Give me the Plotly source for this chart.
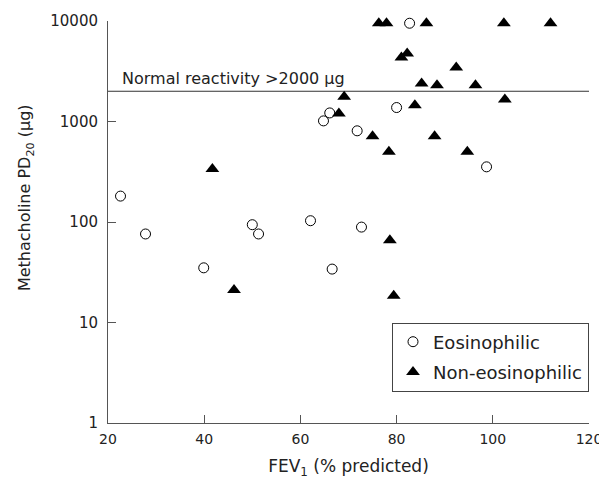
import numpy as np
import plotly.graph_objects as go

# Eosinophilic group (open circles)
eos_fev1 = [82.7, 80.0, 66.1, 64.8, 71.8, 98.7, 22.6, 27.8, 50.0, 51.3, 62.1, 72.7, 39.9, 66.6]
eos_pd20 = [9500, 1377, 1217, 1014, 808, 354, 181, 76, 94, 76, 103, 89, 35, 34]

# Non-eosinophilic group (filled triangles)
non_fev1 = [76.3, 77.9, 86.2, 102.3, 112.0, 81.0, 82.2, 92.4, 85.2, 88.4, 96.4, 69.1,
            102.5, 83.8, 68.0, 75.0, 87.9, 78.4, 94.7, 41.7, 78.6, 46.2, 79.4]
non_pd20 = [9500, 9500, 9500, 9500, 9500, 4330, 4740, 3440, 2390, 2300, 2300, 1760,
            1660, 1453, 1202, 715, 715, 499, 499, 336, 66, 21, 18.5]

threshold = 2000
x_range = [20, 120]
x_ticks = [20, 40, 60, 80, 100, 120]
y_ticks = [1, 10, 100, 1000, 10000]
y_ticktext = ["1", "10", "100", "1000", "10000"]

FONT = "DejaVu Sans"
AXC = "#555555"
TXT = "#222222"

fig = go.Figure()

fig.add_trace(go.Scatter(
    x=x_range, y=[threshold, threshold], mode="lines",
    line=dict(color="#333333", width=1), showlegend=False, hoverinfo="skip",
    cliponaxis=False))

fig.add_trace(go.Scatter(
    x=eos_fev1, y=eos_pd20, mode="markers", name="Eosinophilic",
    legendgroup="a",
    marker=dict(symbol="circle-open", size=10, color="black", line=dict(width=1)),
    cliponaxis=False))

fig.add_trace(go.Scatter(
    x=non_fev1, y=non_pd20, mode="markers", name="Non-eosinophilic",
    legendgroup="b",
    marker=dict(symbol="triangle-up", size=12, color="black"),
    cliponaxis=False))

fig.add_annotation(
    x=22.5, y=np.log10(threshold), xref="x", yref="y",
    text="Normal reactivity >2000 µg", showarrow=False,
    xanchor="left", yanchor="bottom", yshift=1,
    font=dict(family=FONT, size=16, color=TXT))

fig.add_annotation(
    x=-0.17, y=0.56, xref="paper", yref="paper",
    text="Methacholine PD<sub>20</sub> (µg)", showarrow=False,
    textangle=-90, xanchor="center", yanchor="middle",
    font=dict(family=FONT, size=16, color=TXT))

fig.update_layout(
    width=599, height=477,
    margin=dict(l=100, r=18, t=13, b=62),
    paper_bgcolor="white", plot_bgcolor="white",
    font=dict(family=FONT, size=15, color=TXT),
    legend=dict(
        x=1, xanchor="right", y=0.25, yanchor="top",
        bordercolor="#444444", borderwidth=1, bgcolor="white",
        font=dict(family=FONT, size=18, color=TXT),
        traceorder="grouped", tracegroupgap=4),
)

fig.update_xaxes(
    range=x_range, tickvals=x_ticks, automargin=False,
    showline=True, linecolor=AXC, linewidth=1,
    ticks="inside", ticklen=8, tickcolor=AXC,
    showgrid=False, zeroline=False,
    tickfont=dict(family=FONT, size=14, color=TXT),
    ticklabelstandoff=3,
    title=dict(text="FEV<sub>1</sub> (% predicted)",
               font=dict(family=FONT, size=17, color=TXT), standoff=14))

fig.update_yaxes(
    type="log", range=[0, 4], tickvals=y_ticks, ticktext=y_ticktext,
    automargin=False,
    showline=True, linecolor=AXC, linewidth=1,
    ticks="inside", ticklen=8, tickcolor=AXC,
    showgrid=False, zeroline=False,
    tickfont=dict(family=FONT, size=15, color=TXT),
    ticklabelstandoff=6)

fig.write_html("out.html")
